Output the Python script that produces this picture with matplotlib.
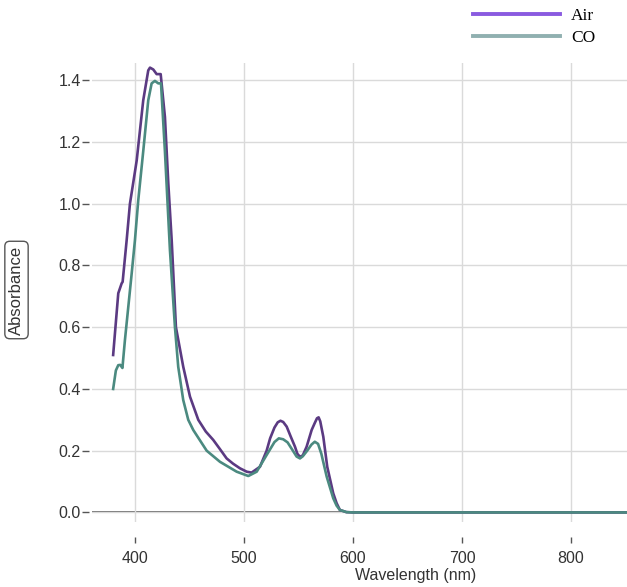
import matplotlib
matplotlib.use("Agg")
import matplotlib.pyplot as plt
from matplotlib.lines import Line2D

plt.rcParams['font.family'] = ['Liberation Sans', 'DejaVu Sans']

# Data
air_wl = [380, 384.7, 387.8, 388.7, 392.4, 395.4, 401.6, 407.6, 412.2, 413.8, 416.8, 419.9,
          423.6, 427.5, 430.6, 433.7, 437.6, 444.3, 450.5, 458.1, 465, 471.8, 478, 484.1,
          490, 496.3, 502.5, 507, 514.7, 520.8, 524, 528, 531, 533.5, 536, 539.2, 543,
          546.8, 549, 551.4, 554, 557.5, 562.1, 565, 567, 568.5, 570, 572.8, 576.4, 581.9,
          585, 588, 594, 600, 700, 800, 851]
air_abs = [0.51, 0.71, 0.742, 0.747, 0.882, 1.0, 1.14, 1.335, 1.432, 1.441, 1.435, 1.42,
           1.42, 1.281, 1.066, 0.882, 0.6, 0.472, 0.375, 0.3, 0.262, 0.235, 0.205, 0.175,
           0.158, 0.143, 0.132, 0.129, 0.148, 0.2, 0.24, 0.275, 0.292, 0.297, 0.293, 0.278,
           0.245, 0.213, 0.19, 0.18, 0.185, 0.213, 0.267, 0.29, 0.305, 0.308, 0.295, 0.245,
           0.148, 0.062, 0.03, 0.008, 0.001, 0.0, 0.0, 0.0, 0.0]

co_wl = [380, 382.5, 384.7, 386.5, 388.5, 390.8, 393.9, 397, 400, 403, 407.6, 412.2,
         415.3, 418.3, 421.4, 423.9, 427.5, 432.1, 436.7, 439.7, 444.3, 448.9, 453.5,
         465.8, 478, 493.3, 504, 511.7, 520.8, 528, 532, 536, 540, 544, 548.3, 551.4,
         554, 558, 562, 565, 568, 571, 575.9, 581.9, 585, 588, 594, 600, 700, 800, 851]
co_abs = [0.4, 0.46, 0.477, 0.478, 0.468, 0.558, 0.666, 0.774, 0.882, 1.01, 1.17, 1.335,
          1.39, 1.398, 1.39, 1.39, 1.17, 0.85, 0.6, 0.472, 0.364, 0.3, 0.267,
          0.2, 0.164, 0.132, 0.118, 0.132, 0.186, 0.228, 0.24, 0.237, 0.227, 0.205, 0.181,
          0.175, 0.182, 0.2, 0.22, 0.229, 0.222, 0.19, 0.116, 0.046, 0.022, 0.008, 0.001,
          0.0, 0.0, 0.0, 0.0]

series_names = ["Air", "CO"]
line_colors = ["#5b3a82", "#4b8a80"]
legend_colors = ["#8a5be0", "#90b0b0"]

W, H = 627, 587
fig = plt.figure(figsize=(W / 100, H / 100), dpi=100)
ax = fig.add_axes([92 / W, 1 - 522 / H, (627 - 92) / W, (522 - 63) / H])

ax.plot(air_wl, air_abs, color=line_colors[0], lw=1.9, zorder=3)
ax.plot(co_wl, co_abs, color=line_colors[1], lw=1.9, zorder=3)

ax.set_xlim(360.6, 851.4)
ax.set_ylim(-0.031, 1.456)
ax.set_xticks([400, 500, 600, 700, 800])
ax.set_yticks([0.0, 0.2, 0.4, 0.6, 0.8, 1.0, 1.2, 1.4])
ax.set_yticklabels([f"{v:.1f}" for v in [0.0, 0.2, 0.4, 0.6, 0.8, 1.0, 1.2, 1.4]])

ax.grid(True, color="#dadada", lw=1.0, zorder=0)
ax.axhline(0, color="#6e6e6e", lw=1.4, zorder=1)

for s in ["top", "right", "bottom", "left"]:
    ax.spines[s].set_visible(False)
ax.spines["bottom"].set_position(("outward", 11))
ax.spines["left"].set_position(("outward", 2))

ax.tick_params(axis="x", direction="out", length=4, width=1, color="#555555",
               labelsize=11.5, labelcolor="#333333", pad=6)
ax.tick_params(axis="y", direction="out", length=5, width=1, color="#555555",
               labelsize=11.5, labelcolor="#333333", pad=1)

ax.set_xlabel("Wavelength (nm)", fontsize=11.5, color="#333333")
ax.xaxis.set_label_coords((416 - 92) / 535, -(568 - 522) / 459)

ax.set_ylabel("Absorbance", fontsize=12, color="#333333",
              bbox=dict(boxstyle="round,pad=0.25,rounding_size=0.3", fc="white",
                        ec="#555555", lw=1.0))
ax.yaxis.set_label_coords(-(92 - 24) / 535, (522 - 290) / 459)

handles = [Line2D([], [], color=c, lw=2.8) for c in legend_colors]
fig.legend(handles, series_names, loc="upper left",
           bbox_to_anchor=(473 / W, 1 - 8 / H), frameon=False,
           handlelength=5.0, handletextpad=0.65, borderpad=0, borderaxespad=0,
           labelspacing=0.35, prop={"family": "Liberation Serif", "size": 12.5})

fig.savefig("out.png", dpi=100)
